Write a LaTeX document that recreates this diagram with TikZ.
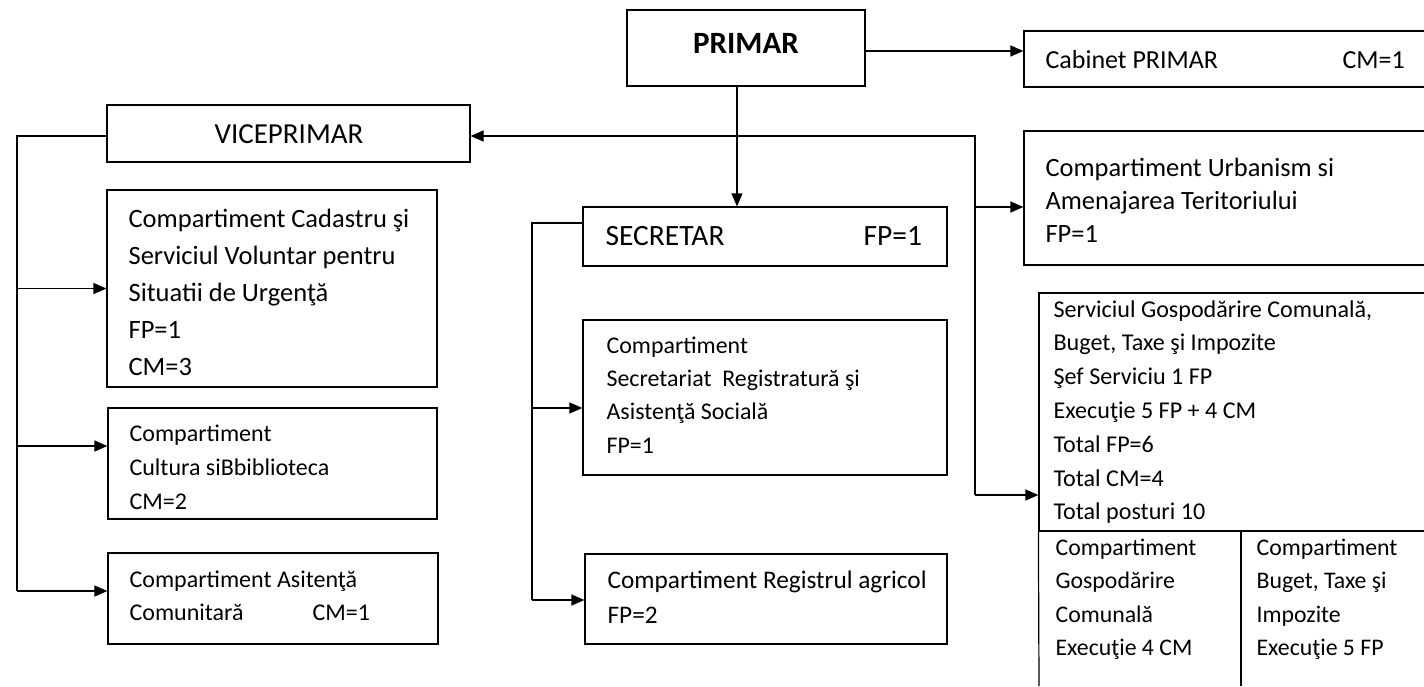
\documentclass[tikz,border=0pt]{standalone}
\usepackage{fontspec}
\setmainfont{Carlito}
\usetikzlibrary{arrows.meta,fit}
\newcommand\tl[1]{\begin{tabular}[t]{@{}l@{}}#1\end{tabular}}
\newcommand\fs[2]{\fontsize{#1}{#2}\selectfont}
\begin{document}
\begin{tikzpicture}[x=1pt,y=-1pt, line width=1.2pt,
 box/.style={draw, rectangle, inner sep=0pt},
 txt/.style={inner sep=0pt, anchor=base west},
 arr/.style={-{Triangle[length=13pt,width=11pt]}}]
\fill[white] (0,0) rectangle (1424,686);
\useasboundingbox (0,0) rectangle (1424,686);
\clip (0,0) rectangle (1424,686);

% boxes
\node[box, fit={(627,10) (865,86)}] (primar) {};
\node[box, fit={(1024,31) (1440,87)}] (cabinet) {};
\node[box, fit={(107,105) (470,162)}] (vice) {};
\node[box, fit={(107,190) (437,387)}] (cad) {};
\node[box, fit={(108,408) (437,519)}] (cult) {};
\node[box, fit={(108,553) (438,644)}] (asist) {};
\node[box, fit={(583,207) (947,266)}] (secr) {};
\node[box, fit={(583,320) (947,475)}] (secrt) {};
\node[box, fit={(585,554) (947,644)}] (reg) {};
\node[box, fit={(1024,131) (1440,265)}] (urb) {};
\node[box, fit={(1039,293) (1440,531)}] (serv) {};
\coordinate (gcA) at (1039,686);
\coordinate (gcB) at (1241,531);
\coordinate (gcC) at (1241,686);
\draw (serv.south west) -- (gcA);
\draw (gcB) -- (gcC);

% texts
\node[txt, anchor=base, font=\fs{31}{36}\bfseries] (primarT) at (746,53) {PRIMAR};
\node[txt, font=\fs{26}{34}] (cabT) at (1045,68) {Cabinet PRIMAR};
\node[txt, font=\fs{26}{34}] (cabT2) at (1342,68) {CM=1};
\node[txt, anchor=base, font=\fs{29}{34}] (viceT) at (289,143) {VICEPRIMAR};
\node[txt, font=\fs{26.5}{37}] (cadT) at (128,227) {\tl{Compartiment Cadastru şi\\Serviciul Voluntar pentru\\Situatii de Urgenţă\\FP=1\\CM=3}};
\node[txt, font=\fs{24}{34}] (cultT) at (129,441) {\tl{Compartiment\\Cultura siBbiblioteca\\CM=2}};
\node[txt, font=\fs{24}{33}] (asistT) at (129,587) {\tl{Compartiment Asitenţă\\\makebox[183pt][l]{Comunitară}CM=1}};
\node[txt, font=\fs{29.5}{34}] (secrT) at (605,245) {SECRETAR};
\node[txt, font=\fs{29.5}{34}] (secrT2) at (863,245) {FP=1};
\node[txt, font=\fs{23.9}{33.4}] (secrtT) at (606,353) {\tl{Compartiment\\Secretariat~ Registratură şi\\Asistenţă Socială\\FP=1}};
\node[txt, font=\fs{25.3}{35}] (regT) at (607,588) {\tl{Compartiment Registrul agricol\\FP=2}};
\node[txt, font=\fs{26.4}{33}] (urbT) at (1045,176) {\tl{Compartiment Urbanism si\\Amenajarea Teritoriului\\FP=1}};
\node[txt, font=\fs{24.1}{33.8}] (servT) at (1053,317) {\tl{Serviciul Gospodărire Comunală,\\Buget, Taxe şi Impozite\\Şef Serviciu 1 FP\\Execuţie 5 FP + 4 CM\\Total FP=6\\Total CM=4\\Total posturi 10}};
\node[txt, font=\fs{23.8}{33.5}] (gcT) at (1055,555) {\tl{Compartiment\\Gospodărire\\Comunală\\Execuţie 4 CM}};
\node[txt, font=\fs{23.8}{33.5}] (btT) at (1256,555) {\tl{Compartiment\\Buget, Taxe şi\\Impozite\\Execuţie 5 FP}};

% connectors
\coordinate (pj) at (737,136);
\coordinate (rj) at (975,136);
\coordinate (lj) at (17,136);
\coordinate (sj) at (532,223);
\draw[arr] (primar.east |- 0,51) -- (cabinet.west |- 0,51);
\draw[arr] (primar.south -| pj) -- (pj |- secr.north);
\draw[arr] (pj) -- (pj -| vice.east);
\draw (pj) -- (rj) -- (rj |- 0,495);
\draw[arr] (rj |- 0,207) -- (urb.west |- 0,207);
\draw[arr] (rj |- 0,495) -- (serv.west |- 0,495);
\draw (vice.west |- lj) -- (lj) -- (lj |- 0,591);
\draw[arr] (lj |- cad.west) -- (cad.west);
\draw[arr] (lj |- 0,446) -- (cult.west |- 0,446);
\draw[arr] (lj |- 0,591) -- (asist.west |- 0,591);
\draw (secr.west |- sj) -- (sj) -- (sj |- 0,600);
\draw[arr] (sj |- 0,408) -- (secrt.west |- 0,408);
\draw[arr] (sj |- 0,600) -- (reg.west |- 0,600);
\end{tikzpicture}
\end{document}
